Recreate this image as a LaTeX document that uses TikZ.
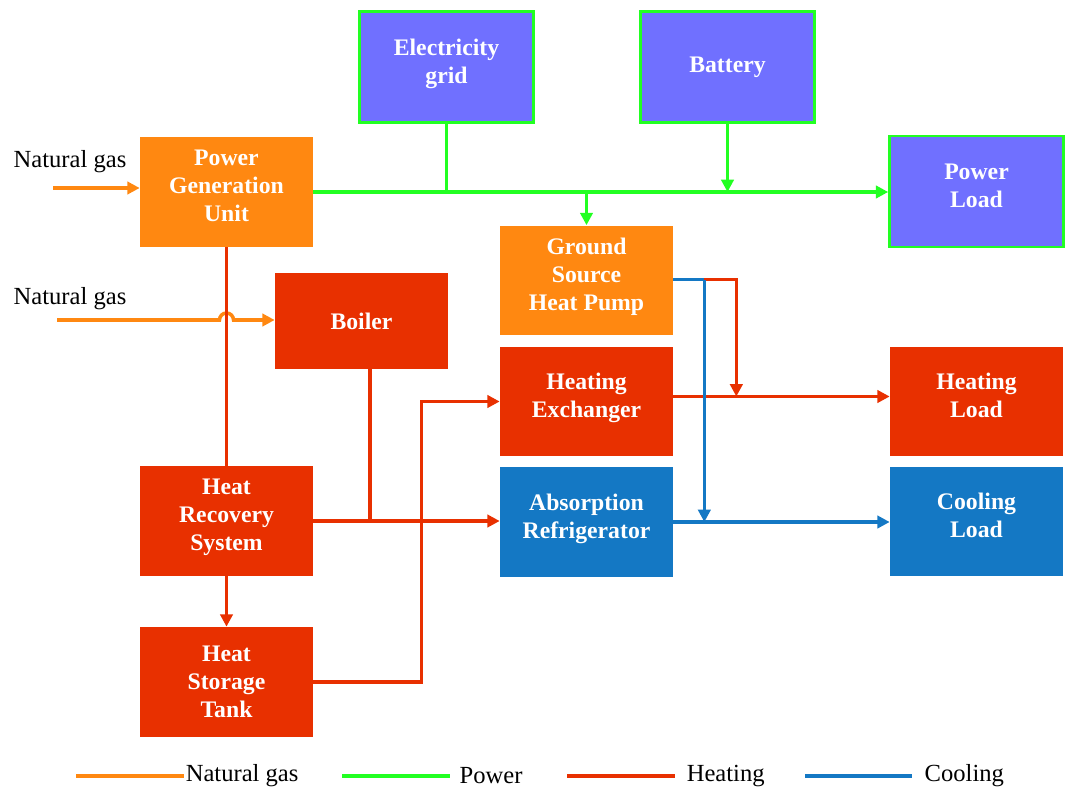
\documentclass[tikz,border=0pt]{standalone}
\usepackage{fontspec}
\setmainfont{Liberation Serif}
\usetikzlibrary{calc,arrows.meta,positioning}
\definecolor{gasc}{RGB}{255,136,17}
\definecolor{powc}{RGB}{34,255,34}
\definecolor{heatc}{RGB}{232,48,0}
\definecolor{coolc}{RGB}{20,120,196}
\definecolor{elecc}{RGB}{112,112,255}
\newcommand{\bxdepth}{7pt}

\begin{document}
\begin{tikzpicture}[x=0.02cm, y=-0.02cm,
    box/.style={minimum width=3.46cm, minimum height=2.2cm, align=center, inner sep=2pt,
      text=white, font=\fontsize{13.5}{16}\selectfont\bfseries,
      execute at end node={\rule[-\bxdepth]{0pt}{0pt}}},
    nostrut/.code={\def\bxdepth{0pt}},
    ebox/.style={box, fill=elecc, draw=powc, line width=1.5pt, minimum width=3.48cm, minimum height=2.22cm},
    gasbox/.style={box, fill=gasc},
    heatbox/.style={box, fill=heatc},
    coolbox/.style={box, fill=coolc},
    gas/.style={draw=gasc, line width=2pt},
    pow/.style={draw=powc, line width=2pt},
    heat/.style={draw=heatc, line width=2pt},
    cool/.style={draw=coolc, line width=2pt},
    lbl/.style={font=\fontsize{14}{16}\selectfont, inner sep=0pt},
    >={Triangle[length=7pt, width=7pt]}]

  \useasboundingbox (0,0) rectangle (1070,790);

  % Electrical side
  \node[ebox] (grid) at (446.5,67) {Electricity\\grid\rule[-4pt]{0pt}{0pt}};
  \node[ebox, nostrut] (bat) at (727.5,67) {Battery};
  \node[ebox] (pload) at (976.5,191.5) {Power\\Load};

  % Generation
  \node[gasbox] (pgu) at (226.5,192) {Power\\Generation\\Unit};
  \node[heatbox, nostrut, minimum height=1.92cm] (boiler) at (361.5,321) {Boiler};
  \node[gasbox] (gshp) at (586.5,280.5) {Ground\\Source\\Heat Pump};

  % Conversion
  \node[heatbox] (hex) at (586.5,401.5) {Heating\\Exchanger};
  \node[coolbox] (absr) at (586.5,522) {Absorption\\Refrigerator};
  \node[heatbox] (hrs) at (226.5,521) {Heat\\Recovery\\System};
  \node[heatbox, nostrut] (tank) at (226.5,682) {Heat\\Storage\\Tank};

  % Loads
  \node[heatbox] (hload) at (976.5,401.5) {Heating\\Load};
  \node[coolbox] (cload) at (976.5,521.5) {Cooling\\Load};

  % Natural gas inputs
  \node[lbl] (ng1) at (70,162) {Natural gas};
  \node[lbl] (ng2) at (70,299) {Natural gas};
  \coordinate (ng1in) at (53,188);
  \coordinate (ng2in) at (57,320);
  \draw[gas,->] (ng1in) -- (pgu.west |- ng1in);
  \draw[gas,->] (ng2in) -- ($(pgu.south |- ng2in)+(-7,0)$)
    arc[start angle=180, end angle=0, radius=0.14cm] -- (boiler.west |- ng2in);

  % Power bus
  \draw[pow,->] (pgu.east) -- (pload.west |- pgu.east);
  \draw[pow] (grid.south) -- (grid.south |- pgu.east);
  \draw[pow,->] (bat.south) -- (bat.south |- pgu.east);
  \draw[pow,->] (gshp.north |- pgu.east) -- (gshp.north);

  % Heat flows
  \draw[heat] (pgu.south) -- (hrs.north);
  \draw[heat,->] (hrs.south) -- (tank.north);
  \coordinate (bo) at ($(boiler.south)+(8.5,0)$);
  \draw[heat] (bo) -- (bo |- hrs.east);
  \draw[heat,->] (hrs.east) -- (absr.west |- hrs.east);
  \draw[heat,->] (tank.east) -- ++(108,0) |- (hex.west);
  \coordinate (hxo) at ($(hex.east)+(0,-5)$);
  \draw[heat,->] (hxo) -- (hload.west |- hxo);

  % Ground source heat pump outputs
  \coordinate (sp) at ($(gshp.east)+(31,-1)$);
  \draw[heat,->] (sp) -- ++(32,0) coordinate (rc) -- (rc |- hxo);
  \draw[cool] (gshp.east |- sp) -- (sp);
  \draw[cool,->] (sp) -- (sp |- absr.east);
  \draw[cool,->] (absr.east) -- (cload.west |- absr.east);

  % Legend
  \draw[gas] (76,776) -- (184,776) node[lbl, right] (lgas) {Natural gas};
  \draw[pow] (342,776) -- (450,776) node[lbl, right=4.5pt] (lpow) {Power};
  \draw[heat] (567,776) -- (675,776) node[lbl, right=5.7pt] (lheat) {Heating};
  \draw[cool] (805,776) -- (912,776) node[lbl, right=6.2pt] (lcool) {Cooling};
\end{tikzpicture}
\end{document}
